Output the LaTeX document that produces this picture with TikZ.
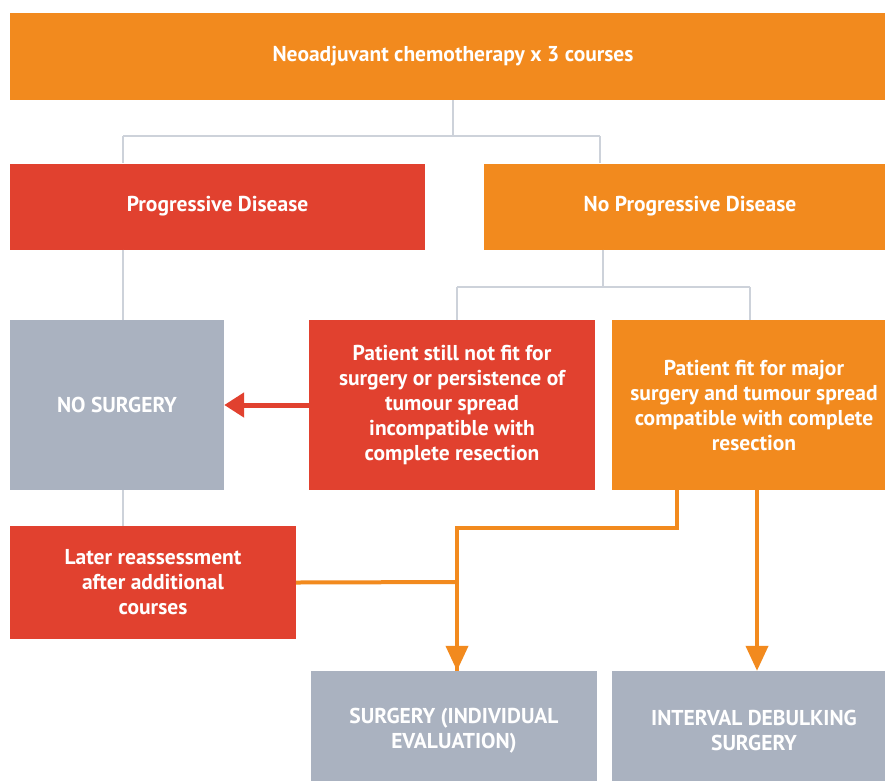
\documentclass[tikz,border=0pt]{standalone}
\usepackage{fontspec}
\setmainfont{PT Sans}
\usetikzlibrary{arrows.meta}
\definecolor{corange}{HTML}{F28A1E}
\definecolor{cred}{HTML}{E1412F}
\definecolor{cgrey}{HTML}{AAB2C0}
\definecolor{cline}{HTML}{CDD2DA}
\tikzset{
  box/.style={rectangle, inner sep=0pt, text=white, font=\fontsize{21.5}{25}\selectfont\bfseries, align=center},
  obox/.style={box, fill=corange},
  rbox/.style={box, fill=cred},
  gbox/.style={box, fill=cgrey},
  gline/.style={draw=cline, line width=2pt},
  oarrow/.style={draw=corange, line width=4pt, -{Triangle[length=25pt,width=22pt]}},
  oline/.style={draw=corange, line width=4pt},
  rarrow/.style={draw=cred, line width=5pt, -{Triangle[length=20pt,width=24pt]}}
}
\begin{document}
\begin{tikzpicture}[x=1pt,y=-1pt]
\useasboundingbox (0,0) rectangle (885,780);
\fill[white] (0,0) rectangle (885,780);
\node[obox, minimum width=886pt, minimum height=87pt] (top) at (453,56.5) {Neoadjuvant chemotherapy x 3 courses};
\node[rbox, minimum width=415pt, minimum height=86pt] (pd) at (217.5,206.5) {Progressive Disease};
\node[obox, minimum width=412pt, minimum height=86pt] (npd) at (690,206.5) {No Progressive Disease};
\node[gbox, minimum width=214pt, minimum height=170pt] (nos) at (117,405) {NO SURGERY};
\node[rbox, minimum width=286pt, minimum height=170pt] (nfit) at (452,405) {Patient still not fit for\\surgery or persistence of\\tumour spread\\incompatible with\\complete resection};
\node[obox, minimum width=284pt, minimum height=170pt] (fit) at (754,405) {Patient fit for major\\surgery and tumour spread\\compatible with complete\\resection};
\node[rbox, minimum width=286pt, minimum height=113pt] (later) at (153,582.5) {Later reassessment\\after additional\\courses};
\node[gbox, minimum width=286pt, minimum height=119pt] (surg) at (454,730.5) {SURGERY (INDIVIDUAL\\EVALUATION)};
\node[gbox, minimum width=284pt, minimum height=119pt] (ids) at (754,730.5) {INTERVAL DEBULKING\\SURGERY};
% grey connectors
\coordinate (j1) at (453,136);
\coordinate (j1l) at (123,136);
\coordinate (j1r) at (600,136);
\draw[gline] (top.south) -- (j1);
\draw[gline] (j1l) -- (j1r);
\draw[gline] (j1l) -- (j1l |- pd.north);
\draw[gline] (j1r) -- (j1r |- npd.north);
\coordinate (j2) at (603,287);
\coordinate (j2l) at (457,287);
\coordinate (j2r) at (750,287);
\draw[gline] (j2 |- npd.south) -- (j2);
\draw[gline] (j2l) -- (j2r);
\draw[gline] (j2l) -- (j2l |- nfit.north);
\draw[gline] (j2r) -- (j2r |- fit.north);
\coordinate (c1) at (123,0);
\draw[gline] (c1 |- pd.south) -- (c1 |- nos.north);
\draw[gline] (c1 |- nos.south) -- (c1 |- later.north);
% red arrow
\draw[rarrow] (nfit.west) -- (nos.east);
% orange arrows
\coordinate (o1) at (677,528);
\coordinate (o2) at (457,528);
\coordinate (o3) at (457,582);
\draw[oline] (o1 |- fit.south) -- (o1) -- (o2) -- (o2 |- surg.north);
\draw[oarrow] (o2) -- (o2 |- surg.north);
\draw[oline] (later.east) -- (o3);
\coordinate (o4) at (757,0);
\draw[oarrow] (o4 |- fit.south) -- (o4 |- ids.north);
\end{tikzpicture}
\end{document}
